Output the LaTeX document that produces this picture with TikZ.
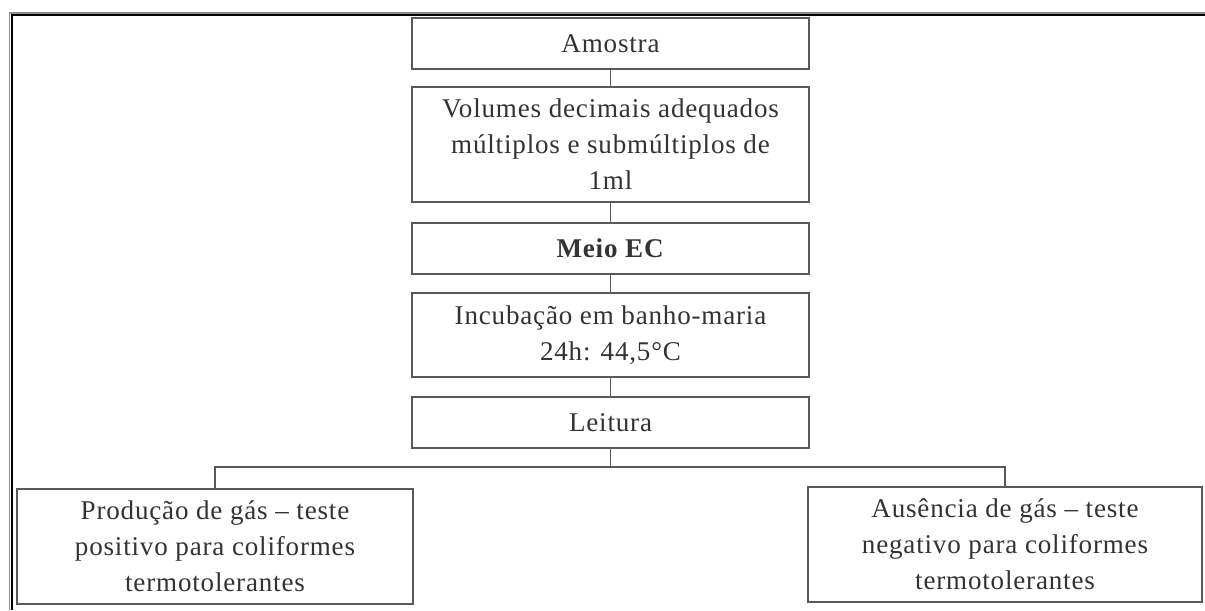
\documentclass[tikz,border=0pt]{standalone}
\usepackage{fontspec}
\setmainfont{Liberation Serif}[LetterSpace=3]

\begin{document}
\begin{tikzpicture}[font=\fontsize{15.4}{20.5}\selectfont,
		box/.style={draw=black!65, line width=1pt, text=black!80, align=center,
			minimum width=7.94cm, minimum height=1.02cm, inner sep=0pt},
		link/.style={draw=black!65, line width=1pt}]
		
		\useasboundingbox (0,0) rectangle (24.1,-12.2);
		
		% 1. Frame (double line, top and left only)
		\draw[black!45, line width=1pt] (0.19,-12.2) |- (24.1,-0.26);
		\draw[black, line width=1pt] (0.24,-12.2) |- (24.1,-0.30);
		
		% 2. Main column
		\node[box] (amostra) at (12.21,-0.87) {Amostra};
		\node[box, minimum height=2.3cm] (volumes) at (12.21,-2.89)
			{Volumes decimais adequados\\ múltiplos e submúltiplos de\\ 1ml};
		\node[box] (meio) at (12.21,-4.97) {\textbf{Meio EC}};
		\node[box, minimum height=1.68cm] (incub) at (12.21,-6.70)
			{Incubação em banho-maria\\ 24h: 44,5°C};
		\node[box] (leitura) at (12.21,-8.45) {Leitura};
		
		% 3. Results (left and right)
		\node[box, minimum width=7.92cm, minimum height=2.3cm] (positivo) at (4.30,-10.93)
			{Produção de gás -- teste\\ positivo para coliformes\\ termotolerantes};
		\node[box, minimum width=7.88cm, minimum height=2.3cm] (negativo) at (20.10,-10.89)
			{Ausência de gás -- teste\\ negativo para coliformes\\ termotolerantes};
		
		% --- Connectors ---
		\draw[link] (amostra) -- (volumes);
		\draw[link] (volumes) -- (meio);
		\draw[link] (meio) -- (incub);
		\draw[link] (incub) -- (leitura);
		\coordinate (split) at (12.21,-9.34);
		\draw[link] (leitura) -- (split);
		\draw[link] (split) -| (positivo);
		\draw[link] (split) -| (negativo);
		
	\end{tikzpicture}
\end{document}
